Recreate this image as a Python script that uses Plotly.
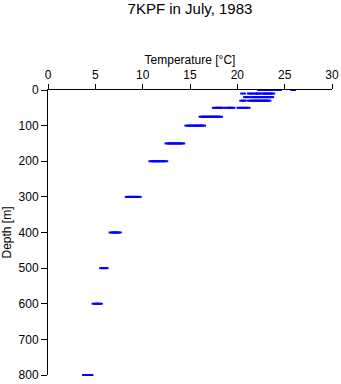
import plotly.graph_objects as go

depths = [0, 10, 20, 30, 50, 75, 100, 150, 200, 300, 400, 500, 600, 800]
temps = {
    0: [22.4, 22.6, 22.8, 23.0, 23.2, 23.4, 23.6, 23.8, 24.0, 24.2, 24.4, 25.9],
    10: [20.6, 21.3, 21.5, 21.9, 22.1, 22.3, 22.7, 22.9, 23.1, 23.3, 23.5, 23.7],
    20: [20.9, 21.1, 21.6, 21.8, 22.0, 22.2, 22.4, 22.6, 22.8, 23.0, 23.2, 23.4, 23.6],
    30: [20.5, 20.7, 21.3, 21.5, 21.7, 21.9, 22.1, 22.3, 22.5, 22.7, 22.9, 23.1, 23.3],
    50: [17.6, 17.8, 18.0, 18.2, 18.4, 18.9, 19.1, 19.3, 19.5, 20.2, 20.5, 20.8, 21.1],
    75: [16.2, 16.4, 16.6, 16.8, 17.0, 17.2, 17.4, 17.6, 17.8, 18.0, 18.2],
    100: [14.7, 14.9, 15.2, 15.4, 15.6, 15.8, 16.0, 16.2, 16.4],
    150: [12.6, 12.8, 13.0, 13.2, 13.4, 13.6, 13.8, 14.0, 14.2],
    200: [10.9, 11.1, 11.3, 11.5, 11.7, 11.9, 12.2, 12.4],
    300: [8.4, 8.6, 8.8, 9.0, 9.2, 9.4, 9.6],
    400: [6.7, 6.9, 7.1, 7.3, 7.5],
    500: [5.7, 5.9, 6.1],
    600: [4.9, 5.1, 5.3, 5.5],
    800: [3.9, 4.1, 4.3, 4.5],
}

xs, ys = [], []
for d in depths:
    for t in temps[d]:
        xs.append(t)
        ys.append(d)

fig = go.Figure(go.Scatter(
    x=xs, y=ys, mode="markers",
    marker=dict(symbol="line-ew", size=4, color="#0000ff",
                line=dict(width=2, color="#0000ff")),
    cliponaxis=False, hoverinfo="x+y",
))

font = dict(family="Liberation Sans, Arial, sans-serif", size=12, color="black")
fig.update_layout(
    width=341, height=384,
    margin=dict(l=48, r=9, t=90, b=9, autoexpand=False),
    paper_bgcolor="white", plot_bgcolor="white",
    showlegend=False,
    font=font,
    title=dict(text="7KPF in July, 1983", x=0.5, xref="paper", xanchor="center",
               y=1 - 8.5 / 384, yref="container", yanchor="middle", pad=dict(t=0, b=0),
               font=dict(family="Liberation Sans, Arial, sans-serif", size=15, color="black")),
    xaxis=dict(side="top", range=[0, 30], tickmode="linear", tick0=0, dtick=5,
               automargin=False,
               showgrid=False, zeroline=False, showline=True, linecolor="black", linewidth=1,
               ticks="outside", ticklen=5, tickcolor="black",
               title=dict(text="Temperature [°C]", standoff=1, font=font)),
    yaxis=dict(range=[800, 0], tickmode="linear", tick0=0, dtick=100,
               automargin=False,
               showgrid=False, zeroline=False, showline=True, linecolor="black", linewidth=1,
               ticks="outside", ticklen=6, tickcolor="black",
               title=dict(text="Depth [m]", standoff=5, font=font)),
)

fig.write_html("out.html")
